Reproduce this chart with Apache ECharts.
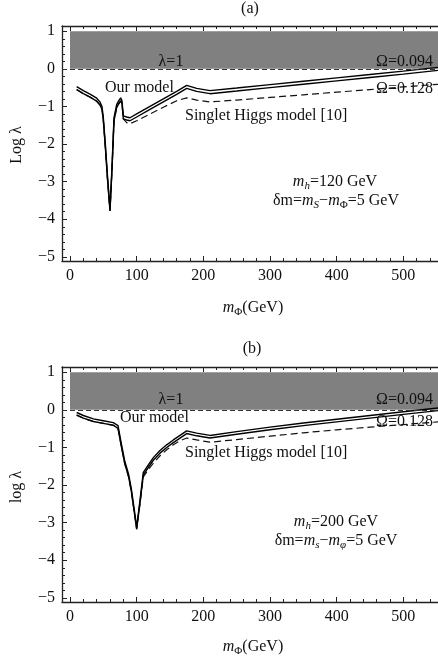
<!DOCTYPE html>
<html>
<head>
<meta charset="utf-8">
<script src="https://cdn.jsdelivr.net/npm/echarts@6/dist/echarts.min.js"></script>
<style>html,body{margin:0;padding:0;background:#fff;}#c{width:438px;height:659px;}</style>
</head>
<body>
<div id="c"></div>
<script>
// ---- Data: panel (a) m_h = 120 GeV ----
const xA = [10,20,30,40,45,48,50,53,56,60,63,66,70,73,76,78,80,85,90,100,120,140,160,175,190,210,250,300,350,400,450,500,552];
const ourUpperA = [-0.47,-0.58,-0.67,-0.78,-0.88,-1.0,-1.3,-2.0,-2.8,-3.72,-2.6,-1.3,-0.95,-0.85,-0.77,-0.85,-1.25,-1.28,-1.3,-1.2,-1.0,-0.8,-0.6,-0.44,-0.52,-0.58,-0.51,-0.42,-0.33,-0.24,-0.15,-0.06,0.04];
const ourLowerA = [-0.55,-0.66,-0.75,-0.86,-0.96,-1.08,-1.38,-2.08,-2.88,-3.78,-2.68,-1.38,-1.03,-0.93,-0.85,-0.93,-1.33,-1.36,-1.38,-1.28,-1.08,-0.88,-0.68,-0.52,-0.6,-0.66,-0.59,-0.5,-0.41,-0.32,-0.23,-0.14,-0.04];
const singletA = [-0.55,-0.66,-0.75,-0.86,-0.96,-1.08,-1.38,-2.08,-2.88,-3.78,-2.68,-1.38,-1.03,-0.93,-0.85,-0.93,-1.33,-1.43,-1.46,-1.38,-1.2,-1.02,-0.85,-0.77,-0.83,-0.88,-0.83,-0.76,-0.69,-0.62,-0.55,-0.48,-0.41];

// ---- Data: panel (b) m_h = 200 GeV ----
const xB = [10,20,35,50,65,72,77,82,88,92,96,100,105,110,118,125,135,145,155,165,175,190,210,250,300,350,400,450,500,552];
const ourUpperB = [-0.07,-0.15,-0.24,-0.29,-0.34,-0.42,-0.9,-1.35,-1.72,-2.1,-2.6,-3.12,-2.4,-1.66,-1.45,-1.27,-1.08,-0.93,-0.8,-0.68,-0.56,-0.62,-0.68,-0.58,-0.46,-0.35,-0.25,-0.15,-0.05,0.05];
const ourLowerB = [-0.14,-0.22,-0.31,-0.36,-0.41,-0.49,-0.97,-1.42,-1.79,-2.17,-2.67,-3.17,-2.47,-1.73,-1.52,-1.34,-1.15,-1.0,-0.87,-0.75,-0.63,-0.69,-0.75,-0.65,-0.53,-0.42,-0.32,-0.22,-0.12,-0.02];
const singletB = [-0.14,-0.22,-0.31,-0.36,-0.41,-0.49,-0.97,-1.42,-1.79,-2.17,-2.67,-3.17,-2.5,-1.78,-1.58,-1.42,-1.22,-1.06,-0.93,-0.82,-0.75,-0.8,-0.86,-0.79,-0.7,-0.61,-0.53,-0.46,-0.39,-0.32];

// ---- Axis ticks ----
const xMajor = [0,100,200,300,400,500];
const xMinor = [20,40,60,80,120,140,160,180,220,240,260,280,320,340,360,380,420,440,460,480,520,540];
const yMajor = [-5,-4,-3,-2,-1,0,1];
const yMinor = [-4.8,-4.6,-4.4,-4.2,-3.8,-3.6,-3.4,-3.2,-2.8,-2.6,-2.4,-2.2,-1.8,-1.6,-1.4,-1.2,-0.8,-0.6,-0.4,-0.2,0.2,0.4,0.6,0.8];
const xRange = [-12, 552];
const yRange = [-5.11, 1.14];
const bandX = [0, 552];
const bandY = [0, 1];

const FONT = 'Liberation Serif';
const INK = '#111';
const AXC = '#222';

const grids = [
  {left: 62, top: 26, width: 376, height: 235},
  {left: 62, top: 367, width: 376, height: 235}
];

function zip(xs, ys){ return xs.map((x,i)=>[x, ys[i]]); }

const xAxes = [], yAxes = [];
grids.forEach((g, gi) => {
  const base = {gridIndex: gi, type: 'value', min: xRange[0], max: xRange[1], splitLine: {show: false}};
  xAxes.push(Object.assign({}, base, {
    position: 'bottom',
    axisLine: {show: true, onZero: false, lineStyle: {color: AXC, width: 1.3}},
    axisTick: {show: true, inside: true, length: 5, customValues: xMajor, lineStyle: {color: AXC, width: 1}},
    axisLabel: {show: true, customValues: xMajor, margin: 7, fontFamily: FONT, fontSize: 16, color: INK}
  }));
  xAxes.push(Object.assign({}, base, {
    position: 'bottom',
    axisLine: {show: false, onZero: false},
    axisTick: {show: true, inside: true, length: 3, customValues: xMinor, lineStyle: {color: AXC, width: 1}},
    axisLabel: {show: false}
  }));
  xAxes.push(Object.assign({}, base, {
    position: 'top',
    axisLine: {show: true, onZero: false, lineStyle: {color: AXC, width: 1.3}},
    axisTick: {show: true, inside: true, length: 5, customValues: xMajor, lineStyle: {color: AXC, width: 1}},
    axisLabel: {show: false}
  }));
  xAxes.push(Object.assign({}, base, {
    position: 'top',
    axisLine: {show: false, onZero: false},
    axisTick: {show: true, inside: true, length: 3, customValues: xMinor, lineStyle: {color: AXC, width: 1}},
    axisLabel: {show: false}
  }));
  const ybase = {gridIndex: gi, type: 'value', min: yRange[0], max: yRange[1], splitLine: {show: false}, position: 'left'};
  yAxes.push(Object.assign({}, ybase, {
    axisLine: {show: true, onZero: false, lineStyle: {color: AXC, width: 1.3}},
    axisTick: {show: true, inside: true, length: 5, customValues: yMajor, lineStyle: {color: AXC, width: 1}},
    axisLabel: {show: true, customValues: yMajor, margin: 7, fontFamily: FONT, fontSize: 16, color: INK,
      formatter: v => String(Math.round(v)).replace('-', '\u2212')}
  }));
  yAxes.push(Object.assign({}, ybase, {
    axisLine: {show: false, onZero: false},
    axisTick: {show: true, inside: true, length: 3, customValues: yMinor, lineStyle: {color: AXC, width: 1}},
    axisLabel: {show: false}
  }));
});

function panelSeries(gi, xs, up, lo, sg){
  const xi = gi * 4, yi = gi * 2;
  const common = {type: 'line', xAxisIndex: xi, yAxisIndex: yi, showSymbol: false, symbol: 'none', animation: false, silent: true};
  return [
    Object.assign({}, common, {
      name: 'band' + gi, data: [], z: 1,
      markArea: {silent: true, itemStyle: {color: '#808080', opacity: 1}, data: [[{coord: [bandX[0], bandY[0]]}, {coord: [bandX[1], bandY[1]]}]]},
      markLine: {silent: true, symbol: 'none', label: {show: false}, lineStyle: {color: '#333', type: [5, 3], width: 1}, data: [{yAxis: 0}]}
    }),
    Object.assign({}, common, {name: 'singlet' + gi, data: zip(xs, sg), z: 3, lineStyle: {color: '#111', width: 1.2, type: [7, 4]}}),
    Object.assign({}, common, {name: 'upper' + gi, data: zip(xs, up), z: 4, lineStyle: {color: '#000', width: 1.4}}),
    Object.assign({}, common, {name: 'lower' + gi, data: zip(xs, lo), z: 4, lineStyle: {color: '#000', width: 1.4}})
  ];
}

const series = [].concat(
  panelSeries(0, xA, ourUpperA, ourLowerA, singletA),
  panelSeries(1, xB, ourUpperB, ourLowerB, singletB)
);

const rich = {
  n: {fontFamily: FONT, fontSize: 16, fill: INK, color: INK, lineHeight: 20, verticalAlign: 'middle'},
  i: {fontFamily: FONT, fontSize: 16, fontStyle: 'italic', fill: INK, color: INK, lineHeight: 20, verticalAlign: 'middle'},
  sub: {fontFamily: FONT, fontSize: 11, fill: INK, color: INK, lineHeight: 11, verticalAlign: 'bottom'},
  subi: {fontFamily: FONT, fontSize: 11, fontStyle: 'italic', fill: INK, color: INK, lineHeight: 11, verticalAlign: 'bottom'}
};

function txt(x, y, text, align, extra){
  return Object.assign({
    type: 'text', x: x, y: y, silent: true, z: 100,
    style: {text: text, fontFamily: FONT, fontSize: 16, fill: INK,
      textAlign: align || 'center', align: align || 'center',
      textVerticalAlign: 'middle', verticalAlign: 'middle', rich: rich}
  }, extra || {});
}

const graphics = [
  txt(250, 9, '(a)'),
  txt(252, 349, '(b)'),
  txt(171, 62, '{n|\u03bb=1}'),
  txt(171, 400, '{n|\u03bb=1}'),
  txt(433, 62, '{n|\u03a9=0.094}', 'right'),
  txt(433, 400, '{n|\u03a9=0.094}', 'right'),
  txt(433, 89, '{n|\u03a9=0.128}', 'right'),
  txt(433, 422, '{n|\u03a9=0.128}', 'right'),
  txt(105, 88, '{n|Our model}', 'left'),
  txt(120, 418, '{n|Our model}', 'left'),
  txt(185, 116, '{n|Singlet Higgs model [10]}', 'left'),
  txt(185, 453, '{n|Singlet Higgs model [10]}', 'left'),
  txt(335, 182, '{i|m}{subi|h}{n|=120 GeV}'),
  txt(336, 201, '{n|\u03b4m=}{i|m}{subi|S}{n|\u2212}{i|m}{sub|\u03a6}{n|=5 GeV}'),
  txt(336, 522, '{i|m}{subi|h}{n|=200 GeV}'),
  txt(336, 541, '{n|\u03b4m=}{i|m}{subi|s}{n|\u2212}{i|m}{subi|\u03c6}{n|=5 GeV}'),
  txt(253, 308, '{i|m}{sub|\u03a6}{n|(GeV)}'),
  txt(253, 647, '{i|m}{sub|\u03a6}{n|(GeV)}'),
  txt(17, 145, '{n|Log \u03bb}', 'center', {rotation: Math.PI / 2}),
  txt(17, 487, '{n|log \u03bb}', 'center', {rotation: Math.PI / 2})
];

const chart = echarts.init(document.getElementById('c'), null, {renderer: 'canvas'});
chart.setOption({
  animation: false,
  backgroundColor: '#fff',
  grid: grids,
  xAxis: xAxes,
  yAxis: yAxes,
  series: series,
  graphic: {elements: graphics}
});
</script>
</body>
</html>
